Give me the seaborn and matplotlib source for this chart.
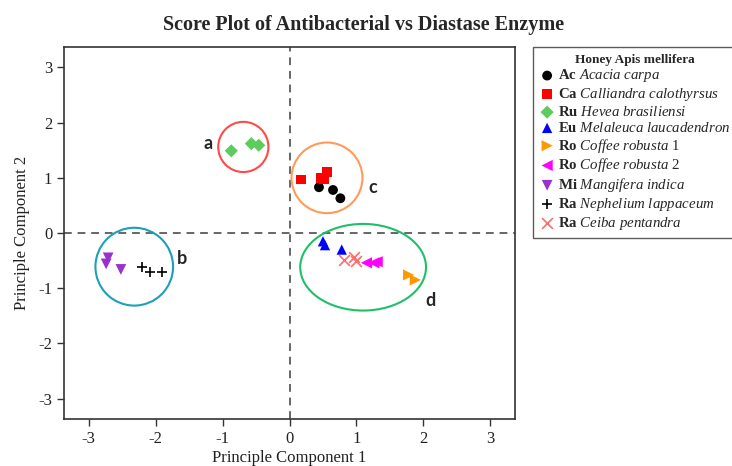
import matplotlib
matplotlib.use("Agg")
import matplotlib.pyplot as plt
from matplotlib.patches import Ellipse
import seaborn as sns
import pandas as pd

# Species (legend codes and names)
codes = ["Ac", "Ca", "Ru", "Eu", "Ro", "Ro", "Mi", "Ra", "Ra"]
species = ["Acacia carpa", "Calliandra calothyrsus", "Hevea brasiliensi",
           "Melaleuca laucadendron", "Coffee robusta 1", "Coffee robusta 2",
           "Mangifera indica", "Nephelium lappaceum", "Ceiba pentandra"]

# PCA scores per species
pc1 = {
    "Acacia carpa": [0.44, 0.65, 0.76],
    "Calliandra calothyrsus": [0.17, 0.47, 0.52, 0.56],
    "Hevea brasiliensi": [-0.87, -0.57, -0.46],
    "Melaleuca laucadendron": [0.50, 0.53, 0.78],
    "Coffee robusta 1": [1.78, 1.88],
    "Coffee robusta 2": [1.15, 1.26, 1.31],
    "Mangifera indica": [-2.71, -2.74, -2.52],
    "Nephelium lappaceum": [-2.20, -2.09, -1.91],
    "Ceiba pentandra": [0.81, 0.97, 1.00],
}
pc2 = {
    "Acacia carpa": [0.83, 0.78, 0.63],
    "Calliandra calothyrsus": [0.97, 1.00, 0.98, 1.10],
    "Hevea brasiliensi": [1.49, 1.62, 1.59],
    "Melaleuca laucadendron": [-0.15, -0.22, -0.30],
    "Coffee robusta 1": [-0.76, -0.85],
    "Coffee robusta 2": [-0.54, -0.54, -0.52],
    "Mangifera indica": [-0.45, -0.56, -0.66],
    "Nephelium lappaceum": [-0.61, -0.70, -0.70],
    "Ceiba pentandra": [-0.48, -0.43, -0.50],
}

# Cluster outlines: label, centre, width, height
cluster_labels = ["a", "b", "c", "d"]
cluster_centers = [(-0.69, 1.56), (-2.32, -0.61), (0.56, 1.00), (1.10, -0.62)]
cluster_sizes = [(0.75, 0.91), (1.16, 1.41), (1.06, 1.28), (1.88, 1.57)]
cluster_text_pos = [(-1.22, 1.63), (-1.61, -0.47), (1.24, 0.82), (2.10, -1.23)]

markers = ["o", "s", "D", "^", ">", "<", "v", "+", "x"]
colors = ["#000000", "#ff0000", "#5ccc5c", "#0000ff", "#ff9900",
          "#ff00ff", "#9932cc", "#000000", "#ff6b6b"]
sizes = [50, 50, 45, 55, 65, 65, 60, 60, 60]
cluster_colors = ["#ff4a4a", "#1c9fb8", "#ff9a5a", "#1fbf6a"]

rows = []
for sp in species:
    for x, y in zip(pc1[sp], pc2[sp]):
        rows.append({"species": sp, "PC1": x, "PC2": y})
df = pd.DataFrame(rows)

sns.set_theme(style="ticks")
plt.rcParams["font.family"] = ["Liberation Serif", "DejaVu Serif"]
plt.rcParams["axes.unicode_minus"] = False
plt.rcParams["mathtext.fontset"] = "custom"
plt.rcParams["mathtext.rm"] = "Liberation Serif"
plt.rcParams["mathtext.it"] = "Liberation Serif:italic"
plt.rcParams["mathtext.bf"] = "Liberation Serif:bold"

fig = plt.figure(figsize=(7.32, 4.66), dpi=100)
ax = fig.add_axes([0.0874, 0.1009, 0.6162, 0.7981])


def legend_label(code, name):
    if name.endswith(" 1") or name.endswith(" 2"):
        base, num = name[:-2], name[-1]
        return r"$\mathbf{%s}$ $\mathit{%s}$ %s" % (code, base.replace(" ", r"\ "), num)
    return r"$\mathbf{%s}$ $\mathit{%s}$" % (code, name.replace(" ", r"\ "))


for code, sp, m, c, s in zip(codes, species, markers, colors, sizes):
    sub = df[df["species"] == sp]
    kw = dict(edgecolor="none") if m not in ("+", "x") else dict(linewidth=1.2)
    sns.scatterplot(data=sub, x="PC1", y="PC2", marker=m, color=c, s=s,
                    label=legend_label(code, sp), ax=ax, zorder=3, **kw)

ax.axhline(0, color="#666666", linestyle=(0, (4, 3)), linewidth=1.4, zorder=1)
ax.axvline(0, color="#666666", linestyle=(0, (4, 3)), linewidth=1.4, zorder=1)

for lab, (cx, cy), (w, h), col, (tx, ty) in zip(cluster_labels, cluster_centers,
                                                cluster_sizes, cluster_colors,
                                                cluster_text_pos):
    ax.add_patch(Ellipse((cx, cy), w, h, fill=False, edgecolor=col,
                         linewidth=1.5, zorder=2))
    ax.text(tx, ty, lab, fontsize=13, fontweight="bold", family="Lato",
            ha="center", va="center")

ax.set_xlim(-3.37, 3.37)
ax.set_ylim(-3.37, 3.37)
ax.set_xticks([-3, -2, -1, 0, 1, 2, 3])
ax.set_yticks([-3, -2, -1, 0, 1, 2, 3])
ax.tick_params(labelsize=12, length=5, width=1.0, colors="#333333",
               labelcolor="#222222")
for sp_ in ax.spines.values():
    sp_.set_color("#333333")
    sp_.set_linewidth(1.2)

ax.set_xlabel("Principle Component 1", fontsize=12, color="#222222", labelpad=2)
ax.set_ylabel("Principle Component 2", fontsize=12, color="#222222", labelpad=6)
fig.suptitle("Score Plot of Antibacterial vs Diastase Enzyme", fontsize=14.5,
             fontweight="bold", x=0.496, y=0.967)

leg = ax.legend(title="Honey Apis mellifera", loc="upper left",
                bbox_to_anchor=(533 / 732, 1 - 47 / 466),
                bbox_transform=fig.transFigure, fontsize=10.7,
                title_fontproperties={"weight": "bold", "size": 9.5},
                frameon=True, fancybox=False, edgecolor="#333333",
                labelspacing=0.12, handletextpad=0.2, handlelength=1.0,
                borderpad=0.45, borderaxespad=0)
leg.get_frame().set_linewidth(1.0)

fig.savefig("out.png", dpi=100)
